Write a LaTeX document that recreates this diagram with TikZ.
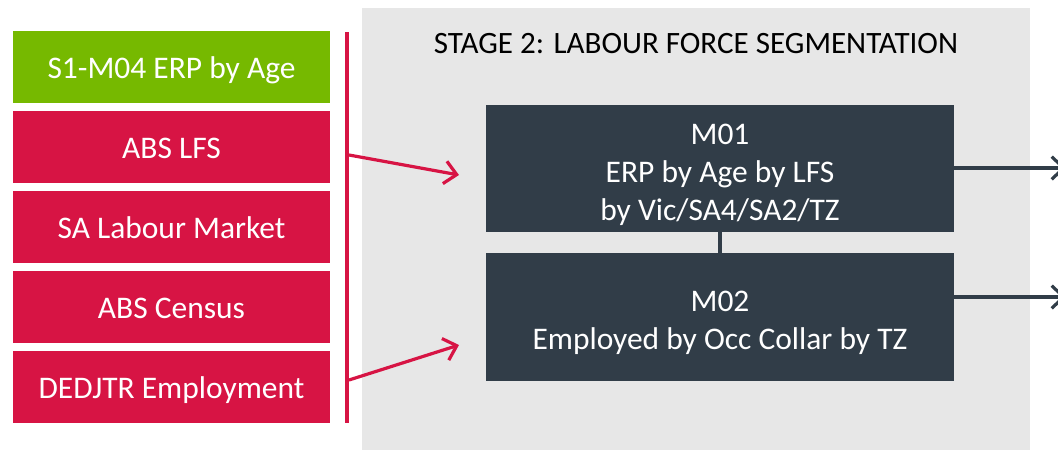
\documentclass[tikz,border=0pt]{standalone}
\usepackage{fontspec}
\setmainfont{Carlito}
\usetikzlibrary{arrows.meta}

\definecolor{srcgreen}{RGB}{118,185,0}
\definecolor{srcred}{RGB}{215,20,68}
\definecolor{stagegray}{RGB}{231,231,231}
\definecolor{modeldark}{RGB}{49,61,72}

\tikzset{
  srcbox/.style={fill=srcred, text=white, minimum width=237.75pt, minimum height=54pt,
    inner sep=0pt, text height=17pt, text depth=0pt, font=\fontsize{23.6}{28}\selectfont},
  modelbox/.style={fill=modeldark, minimum width=351pt, minimum height=95.5pt, inner sep=0pt},
  modeltext/.style={text=white, inner sep=0pt, align=center, font=\fontsize{23.6}{28.5}\selectfont},
  feed/.style={draw=srcred, line width=2.4pt, -{Straight Barb[length=9pt,width=17pt,line width=2.4pt]}},
  outflow/.style={draw=modeldark, line width=2.4pt, -{Straight Barb[length=9pt,width=17pt,line width=2.4pt]}},
}

\begin{document}
\begin{tikzpicture}[x=0.75pt,y=0.75pt,yscale=-1,xscale=1]
\useasboundingbox (0,0) rectangle (1058,451);

%Shape: Rectangle [stage background]
\fill [stagegray] (362,8) rectangle (1030,450);

% Text Node
\node (stagetitle) at (696,44) [font=\fontsize{23.3}{27}\selectfont] {STAGE 2: LABOUR FORCE SEGMENTATION};

%Source boxes
\node (erp) at (171.5,67) [srcbox, fill=srcgreen] {S1-M04 ERP by Age};
\node (lfs) at (171.5,147) [srcbox] {ABS LFS};
\node (salm) at (171.5,227) [srcbox] {SA Labour Market};
\node (census) at (171.5,307) [srcbox] {ABS Census};
\node (dedjtr) at (171.5,387) [srcbox] {DEDJTR Employment};

%Straight Lines [source bar]
\coordinate (bartop) at (347,32);
\coordinate (barbot) at (347,423);
\draw [srcred, line width=3pt] (bartop) -- (barbot);

%Model boxes
\node (mzero1) at (720,168.5) [modelbox] {};
\node (mzero2) at (720,317) [modelbox] {};
% Text Node
\node (mzero1text) at ([yshift=4.5pt]mzero1.center) [modeltext] {M01\\ERP by Age by LFS\\by Vic/SA4/SA2/TZ};
\node (mzero2text) at ([yshift=4pt]mzero2.center) [modeltext] {M02\\Employed by Occ Collar by TZ};

%Straight Lines [link M01 - M02]
\draw [modeldark, line width=3pt] (mzero1.south) -- (mzero2.north);

%Straight Lines [feeds]
\coordinate (feedtopstart) at (349,155);
\coordinate (feedtopend) at (459,175);
\coordinate (feedbotstart) at (349,380);
\coordinate (feedbotend) at (459,345);
\draw [feed] (feedtopstart) -- (feedtopend);
\draw [feed] (feedbotstart) -- (feedbotend);

%Straight Lines [outputs]
\coordinate (outtop) at (1066,168);
\coordinate (outbot) at (1066,297);
\draw [outflow] (mzero1.east |- outtop) -- (outtop);
\draw [outflow] (mzero2.east |- outbot) -- (outbot);

\end{tikzpicture}
\end{document}
